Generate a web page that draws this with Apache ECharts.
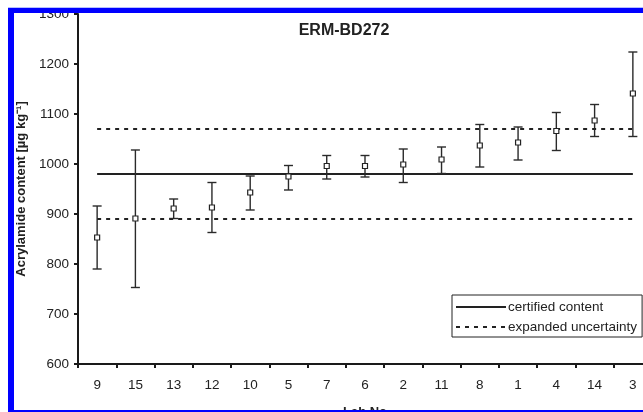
<!DOCTYPE html>
<html>
<head>
<meta charset="utf-8">
<script src="https://cdn.jsdelivr.net/npm/echarts@6/dist/echarts.min.js"></script>
<style>
html,body{margin:0;padding:0;background:#fff;}
#chart{width:643px;height:412px;}
</style>
</head>
<body>
<div id="chart"></div>
<script>
// Lab numbers (x categories), sorted by reported mean
const labs = ['9','15','13','12','10','5','7','6','2','11','8','1','4','14','3'];
// Reported mean acrylamide content [µg/kg]
const means = [853, 891, 911, 913, 943, 975, 996, 996, 999, 1009, 1037, 1043, 1066, 1087, 1141];
// Lower end of error bar
const lows  = [790, 753, 891, 863, 908, 948, 970, 974, 963, 981, 994, 1008, 1027, 1055, 1055];
// Upper end of error bar
const highs = [916, 1028, 930, 963, 976, 997, 1017, 1017, 1030, 1034, 1079, 1074, 1103, 1119, 1224];
// Certified value and expanded uncertainty bounds
const certified = 980;
const upperBound = 1070;
const lowerBound = 890;
// Y tick range
const yMin = 600, yMax = 1300, yStep = 100;

const chart = echarts.init(document.getElementById('chart'), null, {renderer: 'canvas'});
const font = 'Liberation Sans, Arial, Helvetica, sans-serif';
const ink = '#1a1a1a';

const errData = labs.map((l, i) => [i, means[i], lows[i], highs[i]]);

const option = {
  backgroundColor: '#fff',
  animation: false,
  textStyle: {fontFamily: font},
  title: {
    text: 'ERM-BD272',
    left: 339, top: 18, textAlign: 'center',
    textStyle: {fontFamily: font, fontSize: 16, fontWeight: 'bold', color: '#222'}
  },
  legend: {
    orient: 'vertical',
    left: 452, top: 295,
    padding: [5, 5, 3, 3],
    itemGap: 6,
    itemWidth: 50, itemHeight: 14,
    borderColor: '#222', borderWidth: 1,
    backgroundColor: '#fff',
    itemStyle: {opacity: 0},
    textStyle: {fontFamily: font, fontSize: 13.5, color: '#222', padding: [0, 0, 0, -3]},
    data: ['certified content', 'expanded uncertainty']
  },
  grid: {left: 78, top: 14, right: -9, bottom: 48, containLabel: false, outerBoundsMode: 'none'},
  xAxis: {
    type: 'category',
    data: labs,
    boundaryGap: true,
    name: 'Lab No',
    nameLocation: 'middle',
    nameGap: 42,
    nameTextStyle: {fontFamily: font, fontSize: 13, fontWeight: 'bold', color: '#222'},
    axisLine: {lineStyle: {color: ink, width: 2}},
    axisTick: {show: true, length: 4, inside: false, lineStyle: {color: ink, width: 2}},
    axisLabel: {fontFamily: font, fontSize: 13.5, color: '#222', margin: 14},
    splitLine: {show: false}
  },
  yAxis: {
    type: 'value',
    min: yMin, max: yMax, interval: yStep,
    name: 'Acrylamide content [µg kg⁻¹]',
    nameLocation: 'middle',
    nameGap: 45,
    nameRotate: 90,
    nameTextStyle: {fontFamily: font, fontSize: 13, fontWeight: 'bold', color: '#222'},
    axisLine: {show: true, lineStyle: {color: ink, width: 2}},
    axisTick: {show: true, length: 4, lineStyle: {color: ink, width: 2}},
    axisLabel: {fontFamily: font, fontSize: 13.5, color: '#222', margin: 9,
      formatter: function (v) { return String(v); }},
    splitLine: {show: false}
  },
  series: [
    {
      name: 'certified content',
      type: 'line',
      data: labs.map(() => certified),
      symbol: 'none',
      lineStyle: {color: '#222', width: 2, type: 'solid'},
      itemStyle: {color: '#222'},
      z: 2
    },
    {
      name: 'expanded uncertainty',
      type: 'line',
      data: labs.map(() => upperBound),
      symbol: 'none',
      lineStyle: {color: '#222', width: 2, type: [4, 5]},
      itemStyle: {color: '#222'},
      z: 2
    },
    {
      name: 'expanded uncertainty',
      type: 'line',
      data: labs.map(() => lowerBound),
      symbol: 'none',
      lineStyle: {color: '#222', width: 2, type: [4, 5]},
      itemStyle: {color: '#222'},
      z: 2
    },
    {
      name: 'labs',
      type: 'custom',
      data: errData,
      encode: {x: 0, y: [1, 2, 3]},
      clip: false,
      z: 5,
      renderItem: function (params, api) {
        const x = api.value(0);
        const m = api.coord([x, api.value(1)]);
        const lo = api.coord([x, api.value(2)]);
        const hi = api.coord([x, api.value(3)]);
        const cap = 4.5;
        const st = {stroke: '#2a2a2a', lineWidth: 1.4, fill: null};
        const s = 2.5;
        return {
          type: 'group',
          children: [
            {type: 'line', shape: {x1: hi[0], y1: hi[1], x2: lo[0], y2: lo[1]}, style: st},
            {type: 'line', shape: {x1: hi[0] - cap, y1: hi[1], x2: hi[0] + cap, y2: hi[1]}, style: st},
            {type: 'line', shape: {x1: lo[0] - cap, y1: lo[1], x2: lo[0] + cap, y2: lo[1]}, style: st},
            {type: 'rect', shape: {x: m[0] - s, y: m[1] - s, width: 2 * s, height: 2 * s},
              style: {fill: '#fff', stroke: '#222', lineWidth: 1.2}}
          ]
        };
      }
    }
  ],
  graphic: [
    {type: 'rect', z: 100, shape: {x: 0, y: 0, width: 643, height: 8}, style: {fill: '#fff'}},
    {type: 'rect', z: 100, shape: {x: 0, y: 0, width: 8, height: 412}, style: {fill: '#fff'}},
    {type: 'rect', z: 101, shape: {x: 8, y: 7, width: 635, height: 1}, style: {fill: '#b8c0ff'}},
    {type: 'rect', z: 101, shape: {x: 8, y: 8, width: 635, height: 5}, style: {fill: '#0000ff'}},
    {type: 'rect', z: 101, shape: {x: 8, y: 8, width: 6, height: 404}, style: {fill: '#0000ff'}},
    {type: 'rect', z: 101, shape: {x: 8, y: 410, width: 635, height: 2}, style: {fill: '#0000ff'}}
  ]
};
chart.setOption(option);
</script>
</body>
</html>
